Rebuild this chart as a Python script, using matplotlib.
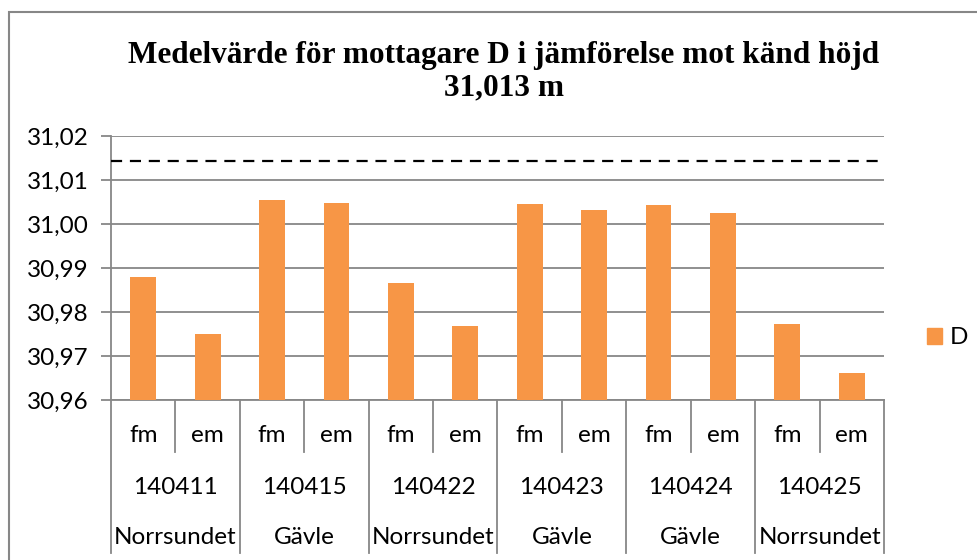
import numpy as np
import matplotlib
matplotlib.use('Agg')
import matplotlib.pyplot as plt
import matplotlib.patches as mpatches
from matplotlib.ticker import FuncFormatter, MultipleLocator
from matplotlib.transforms import blended_transform_factory

# Medelvärde för mottagare D, fm/em per mätdag
sessions = ['fm', 'em'] * 6
dates = ['140411', '140415', '140422', '140423', '140424', '140425']
places = ['Norrsundet', 'Gävle', 'Norrsundet', 'Gävle', 'Gävle', 'Norrsundet']
values_d = [30.9880, 30.9750, 31.0055, 31.0048, 30.9865, 30.9768,
            31.0045, 31.0032, 31.0043, 31.0024, 30.9772, 30.9661]
known_height = 31.0144

W, H = 978, 560
fig = plt.figure(figsize=(W / 100, H / 100), dpi=100)
ax = fig.add_axes([111 / W, 1 - 400 / H, (884 - 111) / W, (400 - 136) / H])

grid_col = '#878787'
bar_col = '#F79646'
lab_font = 'Lato'
fs = 17.5

x = np.arange(len(values_d))
ax.bar(x, values_d, width=0.4, color=bar_col, zorder=3, label='D')
ax.axhline(known_height, color='black', ls=(0, (5, 3.5)), lw=1.6, zorder=4)

ax.set_xlim(-0.5, len(values_d) - 0.5)
ax.set_ylim(30.96, 31.02)
ax.yaxis.set_major_locator(MultipleLocator(0.01))
ax.yaxis.set_major_formatter(FuncFormatter(lambda v, p: f'{v:.2f}'.replace('.', ',')))
ax.yaxis.grid(True, color=grid_col, lw=1.3, zorder=0)
ax.set_xticks([])

for s in ['top', 'right']:
    ax.spines[s].set_visible(False)
for s in ['left', 'bottom']:
    ax.spines[s].set_color(grid_col)
    ax.spines[s].set_linewidth(1.3)
ax.tick_params(axis='y', length=7, width=1.3, color=grid_col, pad=9,
               labelsize=fs, labelcolor='black')
for t in ax.get_yticklabels():
    t.set_family(lab_font)

# category table under the axis
tr = blended_transform_factory(ax.transData, ax.transAxes)
axh = 400 - 136
for i in range(len(values_d) + 1):
    xb = i - 0.5
    bottom = -(553 - 400) / axh if i % 2 == 0 else -(452 - 400) / axh
    ax.plot([xb, xb], [0, bottom], color=grid_col, lw=1.3, transform=tr, clip_on=False)

for i, s in enumerate(sessions):
    ax.text(i, -(436 - 400) / axh, s, transform=tr, ha='center', va='center',
            fontsize=fs, family=lab_font)
for j, d in enumerate(dates):
    ax.text(2 * j + 0.5, -(487 - 400) / axh, d, transform=tr, ha='center', va='center',
            fontsize=fs, family=lab_font)
for j, p in enumerate(places):
    ax.text(2 * j + 0.5, -(537 - 400) / axh, p, transform=tr, ha='center', va='center',
            fontsize=fs, family=lab_font)

# legend
fig.legend(handles=[mpatches.Patch(color=bar_col, label='D')], loc='center left',
           bbox_to_anchor=(927 / W, 1 - 338 / H), frameon=False,
           borderpad=0, borderaxespad=0,
           handlelength=0.6, handleheight=0.6, handletextpad=0.35,
           prop={'family': lab_font, 'size': fs})

# title
fig.text(504 / W, 1 - 55 / H, 'Medelvärde för mottagare D i jämförelse mot känd höjd',
         ha='center', va='center', fontsize=22.5, fontweight='bold', family='Liberation Serif')
fig.text(504 / W, 1 - 88 / H, '31,013 m', ha='center', va='center', fontsize=22.5,
         fontweight='bold', family='Liberation Serif')

# chart border
fig.patches.append(mpatches.Rectangle((8.5 / W, -0.05), 1.1, 1 - 12 / H + 0.05,
                                      transform=fig.transFigure, fill=False,
                                      edgecolor=grid_col, lw=1.5))

fig.savefig('out.png', dpi=100)
